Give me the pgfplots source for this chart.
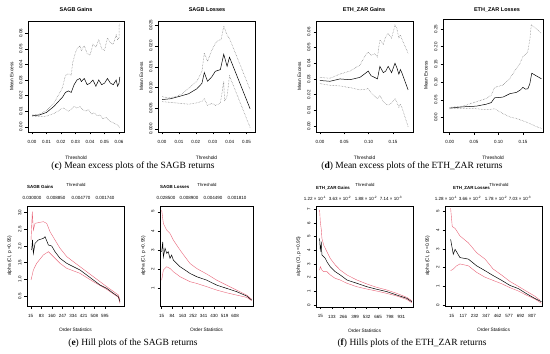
\documentclass[border=0pt]{standalone}
\usepackage{pgfplots}
\pgfplotsset{compat=1.18}
\usepackage{fontspec}
\setmainfont{Liberation Sans}
\newfontfamily\capfont{Liberation Serif}
\definecolor{hillred}{RGB}{232,100,120}
\pgfplotsset{
  rbase/.style={scale only axis, anchor=south west,
    axis line style={line width=0.4pt},
    tick align=outside, xtick pos=left, ytick pos=left,
    major tick length=2.5pt,
    every tick/.style={black, line width=0.4pt},
    tick label style={font=\fontsize{4.5}{5}\selectfont},
    label style={font=\fontsize{4.8}{5.5}\selectfont},
    yticklabel style={rotate=90, anchor=south, inner sep=3pt},
    xticklabel style={anchor=north, inner sep=3pt, yshift=-2.5pt},
    scaled ticks=false,
    /pgf/number format/assume math mode=true,
    clip mode=individual,
    xlabel style={at={(axis description cs:0.5,-0.23)}, anchor=center},
    ylabel style={at={(axis description cs:-0.17,0.5)}, anchor=center},
  },
  me/.style={rbase, xlabel={Threshold}, ylabel={Mean Excess}},
  hill/.style={rbase, xlabel={Order Statistics}, ylabel={alpha (CI, p =0.95)},
    xtick={0,1,2,3,4,5,6,7},
    xlabel style={at={(axis description cs:0.5,-0.24)}, anchor=center},
    ylabel style={at={(axis description cs:-0.18,0.5)}, anchor=center}},
  mid/.style={black, line width=0.5pt},
  band/.style={black!55, densely dotted, line width=0.5pt},
  hmid/.style={black, line width=0.5pt},
  hband/.style={hillred, line width=0.4pt},
}
\begin{document}
\begin{tikzpicture}
\useasboundingbox (0,0) rectangle (550pt,354pt);

% ---------- P1 SAGB Gains mean excess
\begin{axis}[me, at={(28pt,222pt)}, width=96pt, height=111pt,
  xmin=-0.0028, xmax=0.0634, ymin=-0.0034, ymax=0.0679,
  xtick={0,0.01,0.02,0.03,0.04,0.05,0.06}, ytick={0,0.01,0.02,0.03,0.04,0.05,0.06},
  xticklabel style={/pgf/number format/.cd, fixed, fixed zerofill, precision=2},
  yticklabel style={/pgf/number format/.cd, fixed, fixed zerofill, precision=2}]
\addplot[band] coordinates {(0,0.0075) (0.005,0.008) (0.01,0.0105) (0.015,0.015) (0.018,0.020) (0.021,0.025) (0.023,0.033) (0.025,0.034) (0.027,0.033) (0.028,0.041) (0.030,0.048) (0.031,0.050) (0.033,0.052) (0.034,0.049) (0.036,0.052) (0.038,0.047) (0.040,0.046) (0.042,0.053) (0.044,0.051) (0.046,0.056) (0.048,0.050) (0.050,0.049) (0.052,0.057) (0.054,0.054) (0.056,0.053) (0.058,0.059) (0.059,0.056) (0.060,0.057) (0.060,0.065) (0.0605,0.066)};
\addplot[mid] coordinates {(0,0.0070) (0.005,0.0075) (0.01,0.0092) (0.015,0.013) (0.018,0.016) (0.021,0.019) (0.023,0.022) (0.025,0.023) (0.027,0.022) (0.029,0.027) (0.031,0.030) (0.033,0.031) (0.034,0.029) (0.036,0.031) (0.038,0.027) (0.040,0.028) (0.042,0.030) (0.044,0.026) (0.046,0.030) (0.048,0.027) (0.050,0.028) (0.052,0.031) (0.054,0.028) (0.056,0.027) (0.058,0.030) (0.059,0.026) (0.060,0.028) (0.0605,0.032)};
\addplot[band] coordinates {(0,0.0068) (0.005,0.0065) (0.01,0.0068) (0.015,0.0085) (0.018,0.010) (0.020,0.0115) (0.022,0.012) (0.025,0.010) (0.027,0.011) (0.029,0.013) (0.031,0.012) (0.033,0.013) (0.035,0.011) (0.037,0.010) (0.039,0.011) (0.041,0.008) (0.043,0.009) (0.045,0.007) (0.047,0.0075) (0.049,0.005) (0.051,0.006) (0.053,0.004) (0.055,0.003) (0.057,0.002) (0.059,0.001) (0.0605,-0.0005)};
\end{axis}

% ---------- P2 SAGB Losses mean excess
\begin{axis}[me, at={(158pt,222pt)}, width=97pt, height=111pt,
  xmin=-0.0024, xmax=0.055, ymin=-0.0007, ymax=0.026,
  xtick={0,0.01,0.02,0.03,0.04,0.05}, ytick={0,0.005,0.01,0.015,0.02,0.025},
  xticklabel style={/pgf/number format/.cd, fixed, fixed zerofill, precision=2},
  yticklabel style={/pgf/number format/.cd, fixed, fixed zerofill, precision=3}]
\addplot[band] coordinates {(0,0.0078) (0.004,0.0075) (0.008,0.0078) (0.012,0.0085) (0.0157,0.0098) (0.0206,0.0115) (0.0236,0.0139) (0.025,0.0183) (0.0269,0.0163) (0.0295,0.0190) (0.0315,0.0206) (0.0335,0.0214) (0.035,0.0215) (0.0365,0.0248) (0.0385,0.0226) (0.0399,0.0218) (0.0521,0.0095)};
\addplot[mid] coordinates {(0,0.0071) (0.005,0.0073) (0.0106,0.0079) (0.0157,0.0085) (0.0206,0.0097) (0.0236,0.011) (0.025,0.0136) (0.0269,0.0115) (0.0295,0.0126) (0.0315,0.0139) (0.0345,0.0143) (0.0365,0.0180) (0.0385,0.0151) (0.0399,0.0173) (0.0521,0.0049)};
\addplot[band] coordinates {(0,0.0066) (0.0106,0.0062) (0.0157,0.0060) (0.0206,0.0063) (0.0236,0.0067) (0.025,0.0073) (0.0269,0.0057) (0.0295,0.0062) (0.0315,0.0057) (0.0345,0.0062) (0.0365,0.0115) (0.0370,0.0067) (0.0385,0.0079) (0.0399,0.0128) (0.0521,0.0004)};
\end{axis}

% ---------- P3 ETH_ZAR Gains mean excess
\begin{axis}[me, at={(316pt,222pt)}, width=97pt, height=111pt,
  xmin=-0.0082, xmax=0.191, ymin=-0.0038, ymax=0.0669,
  xtick={0,0.05,0.1,0.15}, ytick={0,0.01,0.02,0.03,0.04,0.05,0.06},
  xticklabel style={/pgf/number format/.cd, fixed, fixed zerofill, precision=2},
  yticklabel style={/pgf/number format/.cd, fixed, fixed zerofill, precision=2}]
\addplot[band] coordinates {(0,0.031) (0.0205,0.0304) (0.041,0.0331) (0.0615,0.035) (0.082,0.0388) (0.095,0.046) (0.099,0.047) (0.105,0.045) (0.112,0.046) (0.118,0.044) (0.123,0.0548) (0.130,0.052) (0.135,0.057) (0.140,0.059) (0.147,0.056) (0.154,0.0643) (0.158,0.062) (0.162,0.056) (0.165,0.058) (0.168,0.0555) (0.181,0.0463)};
\addplot[mid] coordinates {(0,0.029) (0.0205,0.0285) (0.041,0.030) (0.0615,0.0295) (0.082,0.031) (0.095,0.034) (0.099,0.035) (0.105,0.032) (0.112,0.031) (0.118,0.030) (0.123,0.038) (0.130,0.034) (0.135,0.035) (0.140,0.038) (0.147,0.034) (0.154,0.040) (0.158,0.037) (0.162,0.033) (0.165,0.036) (0.168,0.034) (0.181,0.023)};
\addplot[band] coordinates {(0,0.027) (0.0205,0.026) (0.041,0.0255) (0.0615,0.0245) (0.082,0.023) (0.095,0.0235) (0.099,0.024) (0.105,0.021) (0.112,0.019) (0.118,0.0175) (0.123,0.0195) (0.130,0.0155) (0.135,0.014) (0.140,0.0135) (0.147,0.0145) (0.154,0.0176) (0.158,0.015) (0.162,0.012) (0.165,0.014) (0.168,0.012) (0.181,-0.0004)};
\end{axis}

% ---------- P4 ETH_ZAR Losses mean excess
\begin{axis}[me, at={(443pt,222pt)}, width=100pt, height=113pt,
  xmin=-0.0137, xmax=0.191, ymin=-0.041, ymax=0.278,
  xtick={0,0.05,0.1,0.15}, ytick={0,0.05,0.1,0.15,0.2,0.25},
  xticklabel style={/pgf/number format/.cd, fixed, fixed zerofill, precision=2},
  yticklabel style={/pgf/number format/.cd, fixed, fixed zerofill, precision=2}]
\addplot[band] coordinates {(0,0.0284) (0.0273,0.032) (0.0546,0.0445) (0.075,0.0535) (0.085,0.063) (0.092,0.085) (0.109,0.0915) (0.123,0.110) (0.130,0.125) (0.137,0.139) (0.143,0.150) (0.150,0.172) (0.155,0.178) (0.160,0.186) (0.164,0.219) (0.167,0.262) (0.188,0.2375)};
\addplot[mid] coordinates {(0,0.0265) (0.0273,0.030) (0.0546,0.032) (0.075,0.0375) (0.085,0.042) (0.092,0.0555) (0.109,0.0575) (0.123,0.067) (0.137,0.071) (0.145,0.078) (0.150,0.085) (0.155,0.080) (0.160,0.081) (0.164,0.095) (0.168,0.125) (0.188,0.109)};
\addplot[band] coordinates {(0,0.0246) (0.0273,0.0256) (0.0546,0.0246) (0.075,0.0218) (0.092,0.0246) (0.109,0.011) (0.123,0.0015) (0.137,-0.003) (0.150,-0.0095) (0.164,-0.017) (0.178,-0.026) (0.188,-0.031)};
\end{axis}

% ---------- P5 SAGB Gains Hill
\begin{axis}[hill, at={(27pt,48pt)}, width=97pt, height=100pt,
  xmin=-0.35, xmax=8.8, ymin=0.2, ymax=3.2,
  xticklabels={15,83,160,247,334,421,508,595},
  ytick={0.5,1,1.5,2,2.5,3},
  yticklabel style={/pgf/number format/.cd, fixed, fixed zerofill, precision=1}]
\addplot[hband] coordinates {(0.03,2.18) (0.15,3.03) (0.25,2.48) (0.41,2.68) (0.72,2.7) (1.19,2.73) (1.51,2.68) (1.82,2.43) (2.29,2.18) (2.77,1.93) (3.4,1.68) (4.65,1.38) (5.91,1.08) (7.17,0.78) (8.27,0.53) (8.42,0.38)};
\addplot[hband] coordinates {(0.03,0.98) (0.25,1.28) (0.56,1.48) (1.19,1.73) (1.67,1.83) (2.14,1.68) (2.77,1.48) (3.4,1.33) (4.65,1.18) (5.91,0.93) (7.17,0.7) (8.27,0.46) (8.42,0.28)};
\addplot[hmid] coordinates {(0.09,1.88) (0.17,2.18) (0.25,1.78) (0.41,2.08) (0.72,2.18) (1.19,2.23) (1.35,2.28) (1.67,2.03) (1.98,2.0) (2.29,1.83) (2.77,1.63) (3.4,1.48) (4.02,1.38) (4.65,1.28) (5.28,1.13) (5.91,0.98) (6.54,0.83) (7.17,0.73) (7.8,0.58) (8.27,0.48) (8.42,0.33)};
\end{axis}

% ---------- P6 SAGB Losses Hill
\begin{axis}[hill, at={(160pt,48pt)}, width=93pt, height=100pt,
  xmin=-0.16, xmax=8.7, ymin=0.08, ymax=5.3,
  xticklabels={15,84,163,252,341,430,519,608},
  ytick={1,2,3,4,5}]
\addplot[hband] coordinates {(0,5.09) (0.16,4.39) (0.48,4.04) (0.79,3.87) (1.11,3.52) (1.75,3.0) (2.22,2.65) (2.7,2.3) (3.33,2.04) (4.29,1.75) (5.24,1.43) (6.19,1.17) (7.14,0.91) (8.1,0.65) (8.57,0.43)};
\addplot[hband] coordinates {(0,1.43) (0.16,1.96) (0.48,2.13) (0.79,2.04) (1.11,1.87) (1.75,1.61) (2.7,1.35) (3.33,1.26) (4.29,1.09) (5.24,0.91) (6.19,0.77) (7.14,0.65) (8.1,0.53) (8.57,0.36)};
\addplot[hmid] coordinates {(0,2.91) (0.1,3.43) (0.16,2.65) (0.32,3.09) (0.48,2.83) (0.63,2.91) (0.79,2.57) (0.95,2.74) (1.11,2.48) (1.43,2.3) (1.75,2.13) (2.22,1.96) (2.7,1.78) (3.33,1.61) (4.29,1.43) (5.24,1.17) (6.19,1.0) (7.14,0.83) (8.1,0.6) (8.57,0.39)};
\end{axis}

% ---------- P7 ETH_ZAR Gains Hill
\begin{axis}[hill, at={(316pt,47.3pt)}, width=97pt, height=100.7pt,
  xmin=-0.37, xmax=8.0, ymin=-0.12, ymax=7.24,
  xticklabels={15,133,266,399,532,665,798,931},
  ytick={0,1,2,3,4,5,6,7}]
\addplot[hband] coordinates {(-0.06,6.95) (0,6.1) (0.09,5.5) (0.14,4.88) (0.29,4.39) (0.57,3.9) (0.86,3.41) (1.29,2.93) (1.72,2.56) (2.3,2.2) (3.16,1.83) (4.02,1.54) (4.89,1.29) (5.75,1.1) (6.61,0.85) (7.47,0.56) (7.9,0.32)};
\addplot[hband] coordinates {(-0.06,2.56) (0,2.8) (0.14,2.56) (0.29,2.44) (0.57,2.44) (0.86,2.2) (1.29,1.95) (1.72,1.83) (2.3,1.59) (3.16,1.34) (4.02,1.17) (4.89,1.02) (5.75,0.85) (6.61,0.66) (7.47,0.41) (7.9,0.17)};
\addplot[hmid] coordinates {(-0.06,4.88) (0,4.02) (0.09,4.5) (0.14,3.66) (0.29,3.54) (0.43,3.41) (0.57,3.17) (0.86,2.8) (1.29,2.44) (1.72,2.2) (2.3,1.83) (3.16,1.59) (4.02,1.34) (4.89,1.15) (5.75,0.98) (6.61,0.73) (7.47,0.49) (7.9,0.24)};
\end{axis}

% ---------- P8 ETH_ZAR Losses Hill
\begin{axis}[hill, at={(445pt,48pt)}, width=97pt, height=100pt,
  xmin=-0.58, xmax=7.85, ymin=-0.05, ymax=5.3,
  xticklabels={15,117,232,347,462,577,692,807},
  ytick={0,1,2,3,4,5}]
\addplot[hband] coordinates {(-0.09,5.17) (0.05,4.2) (0.3,4.1) (0.72,3.7) (1.45,3.33) (2.17,2.8) (2.9,2.46) (3.6,1.93) (4.35,1.6) (5.07,1.26) (5.8,1.0) (6.5,0.74) (7.24,0.47) (7.68,0.26)};
\addplot[hband] coordinates {(-0.09,1.84) (0.14,1.93) (0.43,2.1) (0.72,2.2) (1.45,2.1) (2.17,1.75) (2.9,1.49) (3.6,1.32) (4.35,1.14) (5.07,0.93) (5.8,0.75) (6.5,0.53) (7.24,0.32) (7.8,0.1)};
\addplot[hmid] coordinates {(-0.09,3.51) (0.14,2.72) (0.3,2.98) (0.72,2.54) (1.45,2.46) (2.17,2.1) (2.9,1.84) (3.6,1.58) (4.35,1.32) (5.07,1.05) (5.8,0.88) (6.5,0.61) (7.24,0.35) (7.8,0.18)};
\end{axis}

% ---------- titles top row
\begin{scope}[every node/.style={font=\bfseries\fontsize{5.5}{6}\selectfont}]
\node at (76pt,344pt) {SAGB Gains};
\node at (207pt,344pt) {SAGB Losses};
\node at (364pt,344pt) {ETH\_ZAR Gains};
\node at (497pt,344pt) {ETH\_ZAR Losses};
\end{scope}

% ---------- Hill titles
\begin{scope}[every node/.style={font=\bfseries\fontsize{4.4}{5}\selectfont, anchor=west, inner sep=0pt}]
\node at (27pt,167pt) {SAGB Gains};
\node at (160pt,167pt) {SAGB Losses};
\node at (316pt,166pt) {ETH\_ZAR Gains};
\node at (453pt,166pt) {ETH\_ZAR Losses};
\end{scope}
\begin{scope}[every node/.style={font=\fontsize{4.3}{5}\selectfont, inner sep=0pt}]
\node at (76pt,169pt) {Threshold};
\node at (207pt,169pt) {Threshold};
\node at (365pt,169pt) {Threshold};
\node at (499pt,169pt) {Threshold};
\end{scope}
\begin{scope}[every node/.style={font=\fontsize{4.5}{5}\selectfont}]
% threshold values
\node at (32pt,156pt) {0.030000};
\node at (56pt,156pt) {0.008850};
\node at (81pt,156pt) {0.004770};
\node at (105pt,156pt) {0.001740};
\node at (166pt,156pt) {0.028500};
\node at (189pt,156pt) {0.008900};
\node at (213pt,156pt) {0.004490};
\node at (237pt,156pt) {0.001810};
\node at (315pt,156pt) {1.22 × 10\textsuperscript{-1}};
\node at (340pt,156pt) {3.63 × 10\textsuperscript{-2}};
\node at (366pt,156pt) {1.88 × 10\textsuperscript{-2}};
\node at (391pt,156pt) {7.14 × 10\textsuperscript{-3}};
\node at (446pt,156pt) {1.28 × 10\textsuperscript{-1}};
\node at (470pt,156pt) {3.66 × 10\textsuperscript{-2}};
\node at (496pt,156pt) {1.78 × 10\textsuperscript{-2}};
\node at (520pt,156pt) {7.03 × 10\textsuperscript{-3}};
\end{scope}

% ---------- captions
\begin{scope}[every node/.style={font=\capfont\fontsize{9.5}{11}\selectfont}]
\node at (133pt,188pt) {(\textbf{c}) Mean excess plots of the SAGB returns};
\node at (412pt,188pt) {(\textbf{d}) Mean excess plots of the ETH\_ZAR returns};
\node at (133pt,11pt) {(\textbf{e}) Hill plots of the SAGB returns};
\node at (412pt,11pt) {(\textbf{f}) Hills plots of the ETH\_ZAR returns};
\end{scope}
\end{tikzpicture}
\end{document}
